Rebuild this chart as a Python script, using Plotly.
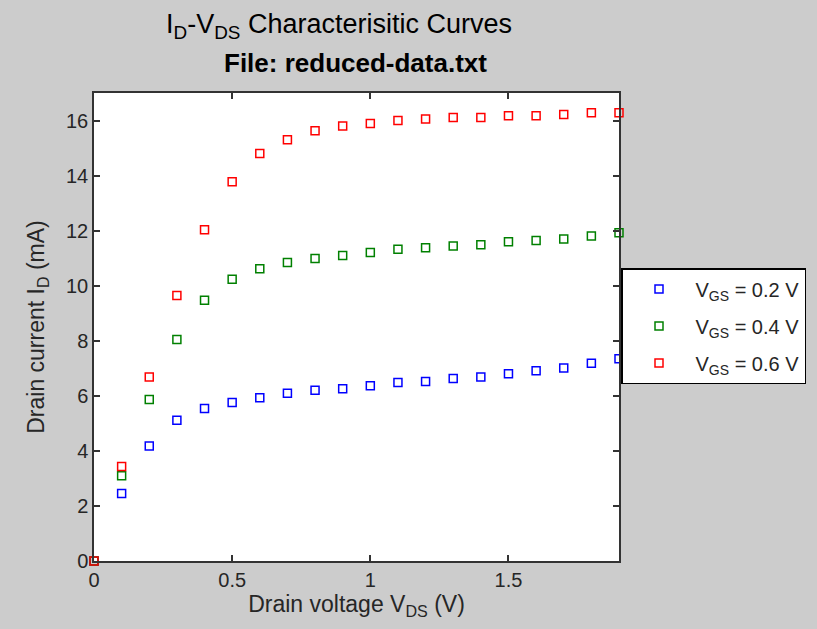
import plotly.graph_objects as go

vds = [0.0, 0.1, 0.2, 0.3, 0.4, 0.5, 0.6, 0.7, 0.8, 0.9, 1.0,
       1.1, 1.2, 1.3, 1.4, 1.5, 1.6, 1.7, 1.8, 1.9]
id_vgs02 = [0.0, 2.45, 4.18, 5.11, 5.54, 5.76, 5.93, 6.09, 6.20, 6.26, 6.37,
            6.48, 6.52, 6.63, 6.68, 6.80, 6.91, 7.01, 7.18, 7.35]
id_vgs04 = [0.0, 3.10, 5.87, 8.05, 9.47, 10.23, 10.62, 10.84, 10.99, 11.10, 11.21,
            11.32, 11.38, 11.44, 11.49, 11.60, 11.64, 11.70, 11.81, 11.92]
id_vgs06 = [0.0, 3.43, 6.68, 9.64, 12.03, 13.78, 14.80, 15.30, 15.63, 15.80, 15.89,
            16.00, 16.06, 16.11, 16.11, 16.17, 16.17, 16.22, 16.28, 16.28]
series_names = ["V<sub>GS</sub> = 0.2 V", "V<sub>GS</sub> = 0.4 V", "V<sub>GS</sub> = 0.6 V"]
series_colors = ["#0000ff", "#008000", "#ff0000"]
x_ticks = [0, 0.5, 1, 1.5]
x_tick_text = ["0", "0.5", "1", "1.5"]
y_ticks = [0, 2, 4, 6, 8, 10, 12, 14, 16]

FONT = "Liberation Sans, Arial, sans-serif"

W, H = 817, 629
ML, MT, MB = 94, 93, 68
PLOT_W = 525
paper_w = W - ML

fig = go.Figure()
for i, (name, ys, col) in enumerate(zip(series_names, [id_vgs02, id_vgs04, id_vgs06], series_colors)):
    fig.add_trace(go.Scatter(
        x=vds, y=ys, mode="markers", name=name, legendgroup=f"g{i}",
        marker=dict(symbol="square-open", size=8, color=col, line=dict(width=1.5, color=col)),
        cliponaxis=False,
    ))

axis_common = dict(
    showgrid=False, zeroline=False, showline=True, linecolor="#333333", linewidth=1.5,
    ticks="inside", ticklen=6, tickwidth=1.5, tickcolor="#333333", mirror="ticks",
    tickfont=dict(family=FONT, size=20, color="#262626"),
)

fig.update_layout(
    width=W, height=H,
    paper_bgcolor="#cccccc", plot_bgcolor="#ffffff",
    margin=dict(l=ML, r=0, t=MT, b=MB, pad=0),
    font=dict(family=FONT, color="#000000"),
    title=dict(
        text="I<sub>D</sub>-V<sub>DS</sub> Characterisitic Curves",
        x=339 / W, xanchor="center", xref="container",
        y=1 - 24 / H, yanchor="middle", yref="container",
        font=dict(family=FONT, size=27, color="#000000"),
    ),
    xaxis=dict(range=[0, 1.9], tickvals=x_ticks, ticktext=x_tick_text,
               domain=[0, PLOT_W / paper_w],
               title=dict(text="Drain voltage V<sub>DS</sub> (V)", standoff=5,
                          font=dict(family=FONT, size=23, color="#262626")),
               **axis_common),
    yaxis=dict(range=[0, 17], tickvals=y_ticks,
               title=dict(text="Drain current I<sub>D</sub> (mA)", standoff=15,
                          font=dict(family=FONT, size=23, color="#262626")),
               **axis_common),
    legend=dict(
        x=(621 - ML) / paper_w, xanchor="left", y=0.626, yanchor="top",
        bgcolor="#ffffff", bordercolor="#000000", borderwidth=1.5,
        font=dict(family=FONT, size=20, color="#262626"),
        itemwidth=63, tracegroupgap=8,
    ),
    annotations=[dict(
        text="<b>File: reduced-data.txt</b>",
        xref="paper", yref="paper",
        x=(355 - ML) / paper_w, xanchor="center",
        y=(H - MB - 63) / (H - MT - MB), yanchor="middle",
        showarrow=False, font=dict(family=FONT, size=26, color="#000000"),
    )],
    showlegend=True,
)

fig.write_html("out.html", config={"displayModeBar": False},
               post_script="document.body.style.margin='0';")
